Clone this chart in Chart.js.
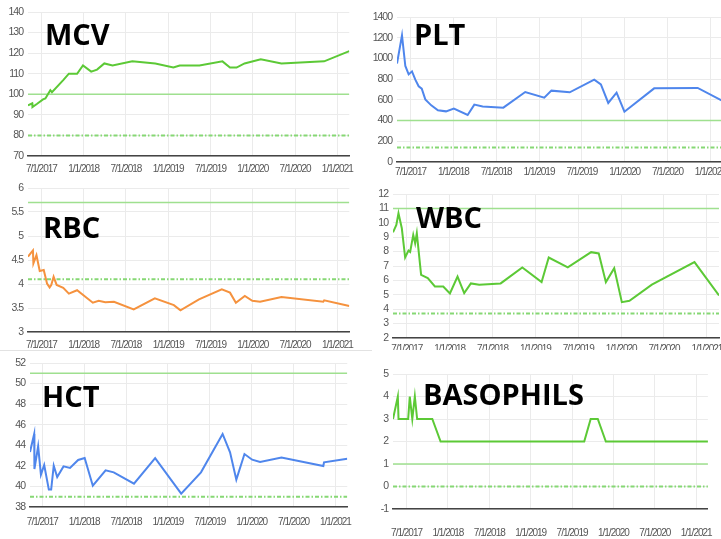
<!DOCTYPE html>
<html>
<head>
<meta charset="utf-8">
<script src="https://cdn.jsdelivr.net/npm/chart.js@4.4.1/dist/chart.umd.min.js"></script>
<style>
    html, body { margin: 0; padding: 0; width: 721px; height: 539px; overflow: hidden; background: #fff; }
    canvas { position: absolute; }
    .divider { position: absolute; left: 0; top: 350px; width: 372px; height: 1px; background: #e2e2e2; }
</style>
</head>
<body>
<canvas id="mcv" width="360" height="180" style="left:0;top:0"></canvas>
<canvas id="plt" width="370" height="180" style="left:360px;top:0"></canvas>
<canvas id="rbc" width="360" height="174" style="left:0;top:176px"></canvas>
<canvas id="wbc" width="370" height="170" style="left:360px;top:180px"></canvas>
<canvas id="hct" width="360" height="189" style="left:0;top:350px"></canvas>
<canvas id="baso" width="370" height="189" style="left:360px;top:350px"></canvas>
<div class="divider"></div>
<script>
// tick labels on the time axis
var tickDates = ['7/1/2017', '1/1/2018', '7/1/2018', '1/1/2019', '7/1/2019', '1/1/2020', '7/1/2020', '1/1/2021'];

// MCV
var mcvDates = ['5/4/2017', '5/22/2017', '5/23/2017', '6/13/2017', '7/8/2017', '7/18/2017', '8/9/2017', '8/16/2017',
    '10/5/2017', '10/28/2017', '12/3/2017', '12/28/2017', '2/3/2018', '2/28/2018', '3/29/2018', '5/4/2018',
    '7/28/2018', '11/6/2018', '1/23/2019', '2/20/2019', '5/14/2019', '8/22/2019', '9/24/2019', '10/22/2019',
    '11/26/2019', '2/5/2020', '5/3/2020', '11/5/2020', '2/22/2021'];
var mcvValues = [94.6, 95.6, 93.8, 95.4, 97.5, 98, 102, 101, 107, 110, 110, 114, 111, 112, 115, 114,
    116, 115, 113, 114, 114, 116, 113, 113, 115, 117, 115, 116, 121];
var mcvRange = [80, 100];

// PLT
var pltDates = ['5/4/2017', '5/25/2017', '6/9/2017', '6/23/2017', '7/7/2017', '7/21/2017', '8/5/2017', '8/18/2017',
    '9/3/2017', '9/28/2017', '10/26/2017', '11/30/2017', '1/3/2018', '3/1/2018', '3/29/2018', '5/4/2018',
    '7/31/2018', '11/3/2018', '1/23/2019', '2/23/2019', '5/10/2019', '8/23/2019', '9/21/2019', '10/22/2019',
    '11/27/2019', '12/30/2019', '5/5/2020', '11/8/2020', '2/22/2021'];
var pltValues = [950, 1223, 927, 846, 875, 795, 731, 708, 605, 547, 499, 489, 515, 454, 554, 537,
    525, 676, 621, 689, 673, 795, 750, 570, 669, 486, 711, 715, 590];
var pltRange = [140, 400];

// RBC
var rbcDates = ['5/4/2017', '5/25/2017', '5/27/2017', '6/10/2017', '6/24/2017', '7/11/2017', '7/25/2017', '8/6/2017',
    '8/13/2017', '8/23/2017', '9/6/2017', '10/4/2017', '10/28/2017', '12/3/2017', '2/10/2018', '3/5/2018',
    '4/3/2018', '5/10/2018', '8/4/2018', '11/4/2018', '1/25/2019', '2/23/2019', '5/12/2019', '8/19/2019',
    '9/24/2019', '10/19/2019', '11/27/2019', '12/29/2019', '2/2/2020', '5/3/2020', '11/1/2020', '11/5/2020',
    '2/22/2021'];
var rbcValues = [4.57, 4.70, 4.43, 4.60, 4.27, 4.29, 4.01, 3.93, 3.98, 4.15, 3.98, 3.92, 3.80, 3.87, 3.61, 3.65,
    3.62, 3.63, 3.47, 3.70, 3.56, 3.45, 3.68, 3.89, 3.82, 3.61, 3.75, 3.65, 3.63, 3.73, 3.63, 3.66, 3.54];
var rbcRange = [4.1, 5.7];

// WBC
var wbcDates = ['5/3/2017', '5/17/2017', '5/26/2017', '6/10/2017', '6/24/2017', '7/8/2017', '7/15/2017', '7/28/2017',
    '8/6/2017', '8/13/2017', '9/1/2017', '9/29/2017', '10/29/2017', '12/4/2017', '1/2/2018', '2/4/2018',
    '3/2/2018', '3/30/2018', '5/5/2018', '8/5/2018', '11/6/2018', '1/27/2019', '2/27/2019', '5/17/2019',
    '8/25/2019', '9/27/2019', '10/27/2019', '12/2/2019', '1/4/2020', '2/6/2020', '5/10/2020', '11/9/2020',
    '2/22/2021'];
var wbcValues = [9.34, 9.85, 10.66, 9.62, 7.59, 8.07, 7.98, 9.16, 8.58, 9.27, 6.39, 6.16, 5.58, 5.58, 5.09, 6.27,
    5.12, 5.79, 5.70, 5.79, 6.90, 5.88, 7.59, 6.90, 7.96, 7.87, 5.88, 6.85, 4.49, 4.59, 5.70, 7.27, 4.95];
var wbcRange = [3.7, 11];

// HCT
var hctDates = ['5/8/2017', '5/26/2017', '5/27/2017', '6/13/2017', '6/25/2017', '7/9/2017', '7/29/2017', '8/9/2017',
    '8/20/2017', '9/5/2017', '10/2/2017', '10/30/2017', '12/5/2017', '1/3/2018', '2/8/2018', '4/3/2018',
    '5/8/2018', '8/5/2018', '11/6/2018', '2/28/2019', '5/23/2019', '8/26/2019', '9/28/2019', '10/25/2019',
    '11/30/2019', '1/3/2020', '2/7/2020', '5/9/2020', '11/9/2020', '11/12/2020', '2/22/2021'];
var hctValues = [43.35, 45.1, 41.69, 43.9, 41.14, 42.08, 39.69, 39.69, 42.02, 40.92, 41.95, 41.79, 42.57, 42.76,
    40.07, 41.56, 41.37, 40.27, 42.76, 39.3, 41.37, 45.1, 43.31, 40.66, 43.15, 42.6, 42.37, 42.8, 41.99, 42.34, 42.7];
var hctRange = [39, 51];

// BASOPHILS
var basoDates = ['5/2/2017', '5/23/2017', '5/26/2017', '7/8/2017', '7/15/2017', '7/26/2017', '8/7/2017', '8/17/2017',
    '10/23/2017', '11/29/2017', '8/24/2019', '9/22/2019', '10/23/2019', '11/28/2019', '2/22/2021'];
var basoValues = [3, 4, 3, 3, 4, 3, 4, 3, 3, 2, 2, 3, 3, 2, 2];
var basoRange = [0, 1];

var tickFont = 'Arial, "Liberation Sans", sans-serif';

// date string -> months since 1/1/2017
function toMonths(s) {
    var p = s.split('/').map(Number);
    return (p[2] - 2017) * 12 + (p[0] - 1) + (p[1] - 1) / 30;
}

var tickVals = tickDates.map(toMonths);

// the source screenshot is squeezed sideways, so tighten the small labels
var condensePlugin = {
    id: 'condense',
    beforeLayout: function (chart) { chart.ctx.letterSpacing = '-1px'; },
    beforeDraw: function (chart) { chart.ctx.letterSpacing = '-1px'; }
};

// big black label inside the plot
var titlePlugin = {
    id: 'panelTitle',
    afterDraw: function (chart, args, opts) {
        var ctx = chart.ctx;
        ctx.save();
        ctx.letterSpacing = '0px';
        ctx.font = 'bold 29px "Open Sans", sans-serif';
        ctx.fillStyle = '#000';
        ctx.textBaseline = 'alphabetic';
        ctx.fillText(opts.text, opts.x, opts.y);
        ctx.restore();
    }
};

function makePanel(p) {
    var canvas = document.getElementById(p.id);
    var W = canvas.width, H = canvas.height;
    var xs = p.dates.map(toMonths);
    var xMin = xs[0], xMax = xs[xs.length - 1];
    var points = xs.map(function (x, i) { return { x: x, y: p.values[i] }; });

    new Chart(canvas.getContext('2d'), {
        type: 'line',
        data: {
            datasets: [
                {
                    data: points,
                    borderColor: p.color,
                    borderWidth: 2,
                    pointRadius: 0,
                    tension: 0
                },
                {
                    data: [{ x: xMin, y: p.range[1] }, { x: xMax, y: p.range[1] }],
                    borderColor: '#9fe08f',
                    borderWidth: 1.5,
                    pointRadius: 0
                },
                {
                    data: [{ x: xMin, y: p.range[0] }, { x: xMax, y: p.range[0] }],
                    borderColor: '#86d874',
                    borderWidth: 2,
                    borderDash: [4, 2, 1.5, 2],
                    pointRadius: 0
                }
            ]
        },
        options: {
            responsive: false,
            animation: false,
            layout: { padding: { left: 0, top: p.area[1], right: W - p.area[2], bottom: 0 } },
            scales: {
                x: {
                    type: 'linear',
                    min: xMin,
                    max: xMax,
                    afterBuildTicks: function (s) { s.ticks = tickVals.map(function (v) { return { value: v }; }); },
                    afterFit: function (s) { s.height = H - p.area[3]; },
                    grid: { color: '#ebebeb', drawTicks: false },
                    border: { color: '#444', width: 1.5 },
                    ticks: {
                        autoSkip: false,
                        maxRotation: 0,
                        padding: p.xPad,
                        color: '#555',
                        font: { family: tickFont, size: 10 },
                        callback: function (v) {
                            var i = tickVals.indexOf(v);
                            return i >= 0 ? tickDates[i] : '';
                        }
                    }
                },
                y: {
                    min: p.y[0],
                    max: p.y[1],
                    afterFit: function (s) { s.width = p.area[0]; },
                    grid: { color: '#ebebeb', drawTicks: false },
                    border: { display: false },
                    ticks: {
                        stepSize: p.y[2],
                        autoSkip: false,
                        padding: 5,
                        color: '#555',
                        font: { family: tickFont, size: 10.5 },
                        callback: function (v) { return v; }
                    }
                }
            },
            plugins: {
                legend: { display: false },
                tooltip: { enabled: false },
                panelTitle: { text: p.title, x: p.titleAt[0], y: p.titleAt[1] }
            }
        },
        plugins: [condensePlugin, titlePlugin]
    });
}

document.addEventListener('DOMContentLoaded', function () {
    var green = '#5cc936';
    var blue = '#4f86ec';
    var orange = '#f5923e';

    makePanel({ id: 'mcv', title: 'MCV', titleAt: [45, 45], dates: mcvDates, values: mcvValues, range: mcvRange,
        color: green, y: [70, 140, 10], area: [28, 12, 354, 156], xPad: 7 });
    makePanel({ id: 'plt', title: 'PLT', titleAt: [54, 45], dates: pltDates, values: pltValues, range: pltRange,
        color: blue, y: [0, 1400, 200], area: [37, 17, 364, 162], xPad: 4 });
    makePanel({ id: 'rbc', title: 'RBC', titleAt: [43, 62], dates: rbcDates, values: rbcValues, range: rbcRange,
        color: orange, y: [3, 6, 0.5], area: [28, 12, 355, 156], xPad: 7 });
    makePanel({ id: 'wbc', title: 'WBC', titleAt: [56, 48], dates: wbcDates, values: wbcValues, range: wbcRange,
        color: green, y: [2, 12, 1], area: [33, 14, 359, 158], xPad: 5 });
    makePanel({ id: 'hct', title: 'HCT', titleAt: [42, 57], dates: hctDates, values: hctValues, range: hctRange,
        color: blue, y: [38, 52, 2], area: [30, 13, 357, 157], xPad: 9 });
    makePanel({ id: 'baso', title: 'BASOPHILS', titleAt: [63, 55], dates: basoDates, values: basoValues, range: basoRange,
        color: green, y: [-1, 5, 1], area: [33, 24, 360, 159], xPad: 18 });
});
</script>
</body>
</html>
